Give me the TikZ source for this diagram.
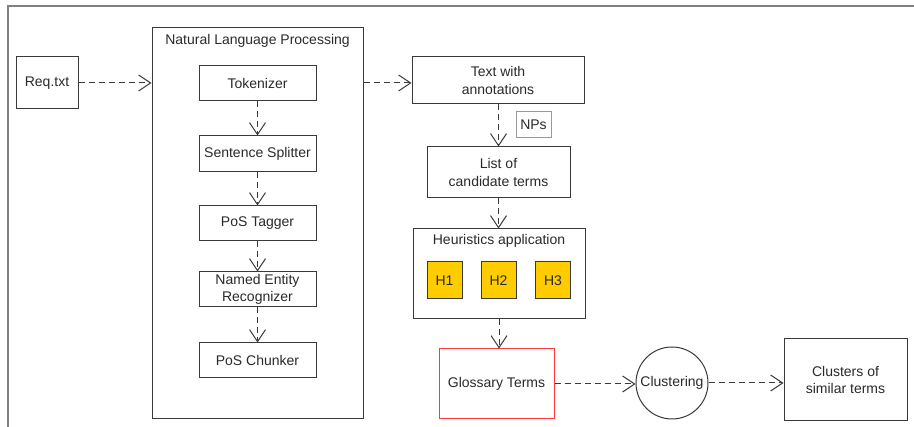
\documentclass[tikz,border=0pt]{standalone}
\usepackage{fontspec}
\setmainfont{Liberation Sans}
\usetikzlibrary{arrows.meta}
\definecolor{linegray}{HTML}{3A3A3A}
\definecolor{framegray}{HTML}{808080}
\definecolor{txtgray}{HTML}{2A2A2A}
\definecolor{hyellow}{HTML}{FFCC00}
\definecolor{gred}{HTML}{FF3838}
\begin{document}
\begin{tikzpicture}[x=1pt,y=-1pt,
  box/.style={draw=linegray, line width=1pt, fill=white, inner sep=0pt, text=txtgray,
    font=\fontsize{14}{17.5}\selectfont, align=center},
  title/.style={inner sep=0pt, text=txtgray, font=\fontsize{14}{17}\selectfont},
  flow/.style={draw=linegray, line width=1pt, dash pattern=on 6pt off 4pt,
    -{Straight Barb[length=12pt,width=16pt,line width=1pt]}},
]
\useasboundingbox (0,0) rectangle (914,427);
\draw[framegray, line width=1.3pt] (8,427) -- (8,6) -- (914,6);

% left part
\node[box, minimum width=62pt, minimum height=52pt] (req) at (47,83) {Req.txt};
\node[box, minimum width=211pt, minimum height=391pt] (nlp) at (257.5,223.5) {};
\node[title] (nlpt) at (257.5,41) {Natural Language Processing};
\node[box, minimum width=117pt, minimum height=35pt] (tok) at (257.5,83.5) {Tokenizer};
\node[box, minimum width=117pt, minimum height=36pt] (ss) at (257.5,154) {Sentence Splitter};
\node[box, minimum width=117pt, minimum height=35pt] (pos) at (257.5,223.5) {PoS Tagger};
\node[box, minimum width=117pt, minimum height=35pt, font=\fontsize{14}{17}\selectfont] (ner) at (257.5,289.5) {Named Entity\\Recognizer};
\node[box, minimum width=117pt, minimum height=35pt] (chk) at (257.5,360.5) {PoS Chunker};

% middle column
\node[box, minimum width=172pt, minimum height=47pt] (twa) at (498,80.5) {Text with\\annotations};
\node[box, draw=framegray!80, minimum width=35pt, minimum height=26pt] (nps) at (533.5,125) {NPs};
\node[box, minimum width=143pt, minimum height=51pt] (lct) at (498.5,172.5) {List of\\candidate terms};
\node[box, minimum width=172pt, minimum height=90pt] (heur) at (499,274) {};
\node[title] (heurt) at (499,241) {Heuristics application};
\node[box, fill=hyellow, minimum width=35pt, minimum height=37pt] (h1) at (444.5,280.5) {H1};
\node[box, fill=hyellow, minimum width=35pt, minimum height=37pt] (h2) at (498.5,280.5) {H2};
\node[box, fill=hyellow, minimum width=35pt, minimum height=37pt] (h3) at (553,280.5) {H3};
\node[box, draw=gred, minimum width=115pt, minimum height=70pt] (gls) at (496.5,384) {Glossary Terms};
\node[box, circle, minimum size=72pt] (clu) at (672,383) {Clustering};
\node[box, minimum width=123pt, minimum height=82pt] (cst) at (845.5,380) {Clusters of\\similar terms};

% connectors
\draw[flow] (req.east) -- (nlp.west |- req.east);
\draw[flow] (nlp.east |- req.east) -- (twa.west |- req.east);
\draw[flow] (tok) -- (ss);
\draw[flow] (ss) -- (pos);
\draw[flow] (pos) -- (ner);
\draw[flow] (ner) -- (chk);
\draw[flow] (twa.south -| lct.north) -- (lct.north);
\draw[flow] (lct.south) -- (lct.south |- heur.north);
\draw[flow] (heur.south) -- (heur.south |- gls.north);
\draw[flow] (gls.east) -- (clu.west |- gls.east);
\draw[flow] (clu.east) -- (cst.west |- clu.east);
\end{tikzpicture}
\end{document}
